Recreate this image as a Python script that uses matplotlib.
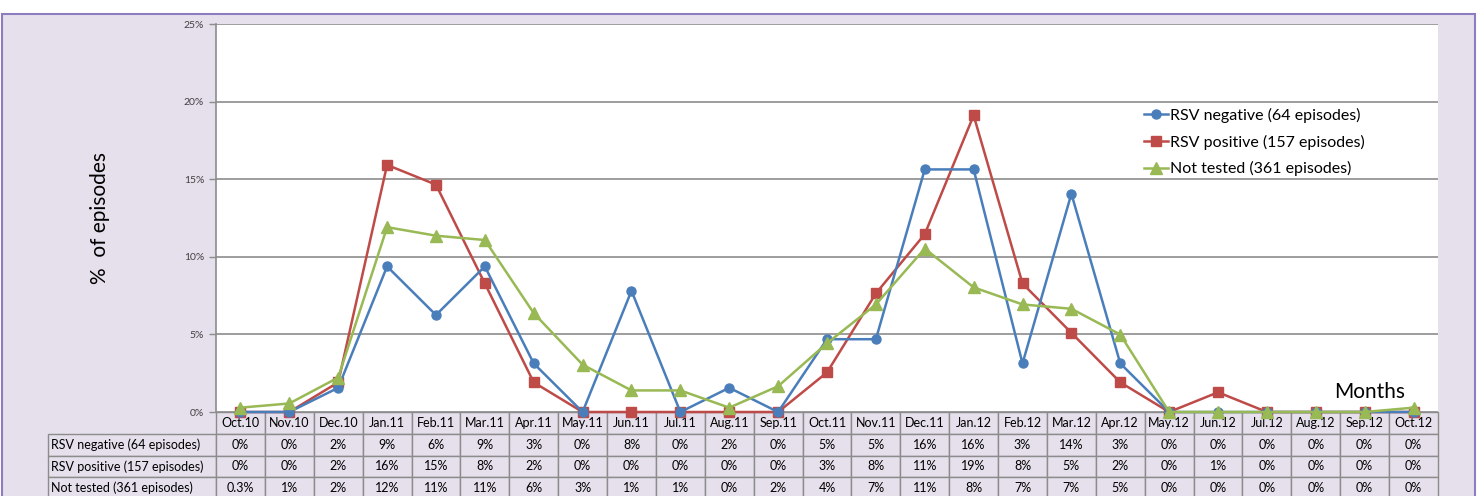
import matplotlib
matplotlib.use("Agg")
import matplotlib.pyplot as plt
from matplotlib.patches import Rectangle
from matplotlib.ticker import FuncFormatter

plt.rcParams['font.family'] = ['Lato', 'DejaVu Sans']

# Datos: porcentaje de episodios por mes
months = ["Oct.10", "Nov.10", "Dec.10", "Jan.11", "Feb.11", "Mar.11", "Apr.11", "May.11",
          "Jun.11", "Jul.11", "Aug.11", "Sep.11", "Oct.11", "Nov.11", "Dec.11", "Jan.12",
          "Feb.12", "Mar.12", "Apr.12", "May.12", "Jun.12", "Jul.12", "Aug.12", "Sep.12", "Oct.12"]

rsv_neg = [0, 0, 1.56, 9.38, 6.25, 9.38, 3.13, 0, 7.81, 0, 1.56, 0, 4.69, 4.69,
           15.63, 15.63, 3.13, 14.06, 3.13, 0, 0, 0, 0, 0, 0]
rsv_pos = [0, 0, 1.91, 15.92, 14.65, 8.28, 1.91, 0, 0, 0, 0, 0, 2.55, 7.64,
           11.46, 19.11, 8.28, 5.10, 1.91, 0, 1.27, 0, 0, 0, 0]
not_tested = [0.28, 0.55, 2.22, 11.91, 11.36, 11.08, 6.37, 3.05, 1.39, 1.39, 0.28, 1.66,
              4.43, 6.93, 10.53, 8.03, 6.93, 6.65, 4.99, 0, 0, 0, 0, 0, 0.28]

series_names = ["RSV negative (64 episodes)", "RSV positive (157 episodes)", "Not tested (361 episodes)"]

# Textos de la tabla
tab_neg = ["0%", "0%", "2%", "9%", "6%", "9%", "3%", "0%", "8%", "0%", "2%", "0%", "5%", "5%",
           "16%", "16%", "3%", "14%", "3%", "0%", "0%", "0%", "0%", "0%", "0%"]
tab_pos = ["0%", "0%", "2%", "16%", "15%", "8%", "2%", "0%", "0%", "0%", "0%", "0%", "3%", "8%",
           "11%", "19%", "8%", "5%", "2%", "0%", "1%", "0%", "0%", "0%", "0%"]
tab_nt = ["0.3%", "1%", "2%", "12%", "11%", "11%", "6%", "3%", "1%", "1%", "0%", "2%", "4%", "7%",
          "11%", "8%", "7%", "7%", "5%", "0%", "0%", "0%", "0%", "0%", "0%"]

lavender = "#e5e0ec"
grid_c = "#8c8c8c"

W, H = 1481, 496
fig = plt.figure(figsize=(W / 100, H / 100), dpi=100)
fig.patch.set_facecolor("white")

# marco de fondo
fig.patches.append(Rectangle((2 / W, -0.02), (1475 - 2) / W, 1.02 - 14 / H,
                             transform=fig.transFigure, facecolor=lavender,
                             edgecolor="#8e7cc3", linewidth=1.5, zorder=-5))

ax = fig.add_axes([216 / W, 1 - 412 / H, (1438 - 216) / W, (412 - 24) / H])
ax.set_facecolor("white")

x = list(range(len(months)))
ax.plot(x, rsv_neg, color="#4a7ebb", marker="o", markersize=6.5, linewidth=1.8,
        label=series_names[0], zorder=11, clip_on=False)
ax.plot(x, rsv_pos, color="#be4b48", marker="s", markersize=6.5, linewidth=1.8,
        label=series_names[1], zorder=10, clip_on=False)
ax.plot(x, not_tested, color="#98b954", marker="^", markersize=8, linewidth=1.8,
        label=series_names[2], zorder=12, clip_on=False)

ax.set_xlim(-0.5, len(months) - 0.5)
ax.set_ylim(0, 25)
ax.set_yticks([0, 5, 10, 15, 20, 25])
ax.yaxis.set_major_formatter(FuncFormatter(lambda v, p: f"{v:.0f}%"))
ax.tick_params(axis="y", labelsize=7.5, colors=grid_c, labelcolor="#404040", length=5, width=1)
ax.set_xticks([])
ax.grid(axis="y", color=grid_c, linewidth=1.2)
ax.set_axisbelow(True)
for s in ["top", "right", "bottom"]:
    ax.spines[s].set_visible(False)
ax.spines["left"].set_color(grid_c)
ax.spines["left"].set_linewidth(1.2)

ax.set_ylabel("%  of episodes", fontsize=15)
ax.yaxis.set_label_coords((110 - 216) / 1222, 0.5)

ax.legend(loc="center left", bbox_to_anchor=((1136 - 216) / 1222, (412 - 142) / 388),
          frameon=False, fontsize=11.5, handlelength=1.5, handletextpad=0.15,
          labelspacing=0.72, borderpad=0).set_zorder(20)

fig.text(1370 / W, 1 - 392 / H, "Months", fontsize=15, ha="center", va="center")

# tabla de datos bajo el eje
ncol = len(months)
tbl = ax.table(cellText=[tab_neg, tab_pos, tab_nt], colLabels=months,
               colWidths=[1 / ncol] * ncol, cellLoc="center",
               bbox=[0, -87 / 388, 1, 87 / 388])
tbl.set_zorder(1)
row_h = tbl[0, 0].get_height()
for i, name in enumerate(series_names):
    tbl.add_cell(i + 1, -1, width=168 / 1222, height=row_h, text=name, loc="left")
tbl.auto_set_font_size(False)
tbl.set_fontsize(9)
for (r, c), cell in tbl.get_celld().items():
    cell.set_facecolor(lavender)
    cell.set_edgecolor(grid_c)
    cell.set_linewidth(1)
    cell.PAD = 0.02

fig.savefig("out.png", dpi=100)
